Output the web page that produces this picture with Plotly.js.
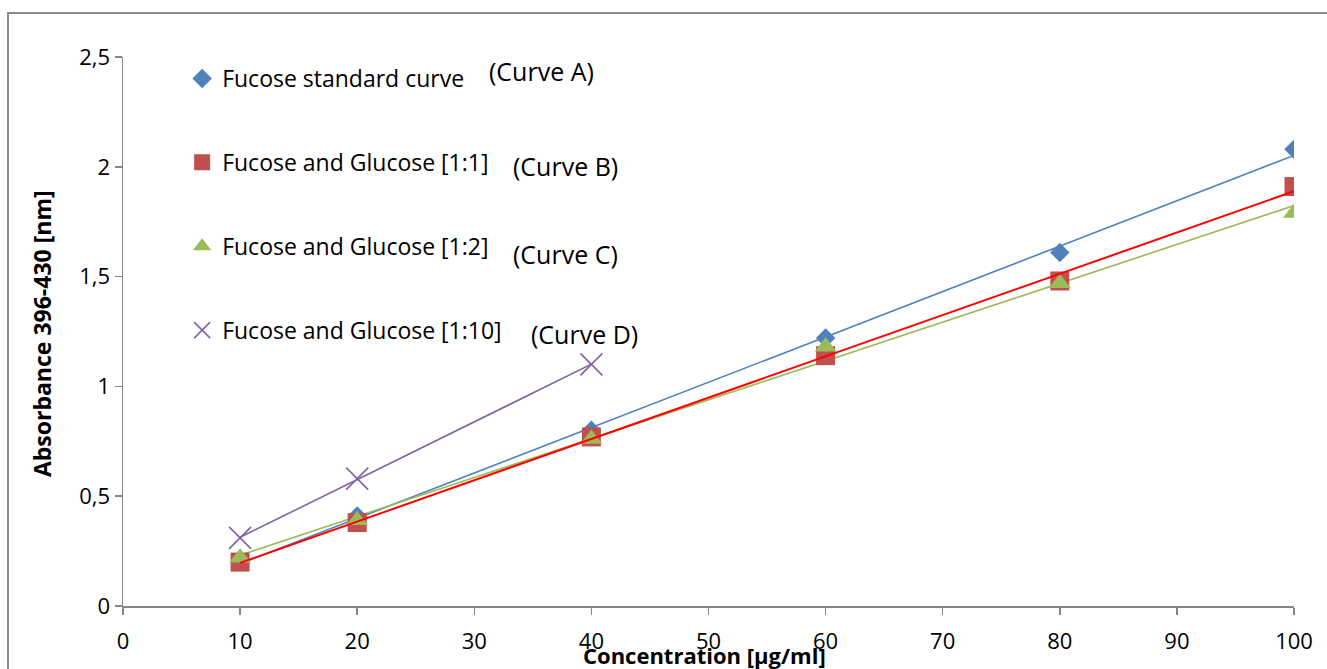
<!DOCTYPE html>
<html>
<head>
<meta charset="utf-8">
<script src="https://cdn.plot.ly/plotly-3.0.1.min.js"></script>
<style>
  html, body { margin: 0; padding: 0; background: #fff; }
  #wrap { position: relative; width: 1327px; height: 669px; overflow: hidden; }
  #chart { position: absolute; left: 0; top: 0; width: 1327px; height: 669px; }
  #frame { position: absolute; left: 7px; top: 12px; width: 1340px; height: 700px;
           border-top: 2px solid #8a8a8a; border-left: 2px solid #8a8a8a; pointer-events: none; }
</style>
</head>
<body>
<div id="wrap">
  <div id="chart"></div>
  <div id="frame"></div>
</div>
<script>
// ---- data ----
const concentration = [10, 20, 40, 60, 80, 100];
const curveA = [0.20, 0.41, 0.80, 1.22, 1.61, 2.08];   // Fucose standard curve
const curveB = [0.20, 0.38, 0.77, 1.14, 1.48, 1.91];   // Fucose and Glucose [1:1]
const curveC = [0.22, 0.39, 0.76, 1.18, 1.47, 1.79];   // Fucose and Glucose [1:2]
const concentrationD = [10, 20, 40];
const curveD = [0.31, 0.58, 1.10];                      // Fucose and Glucose [1:10]

const seriesNames = ['Fucose standard curve', 'Fucose and Glucose [1:1]',
                     'Fucose and Glucose [1:2]', 'Fucose and Glucose [1:10]'];
const curveLabels = ['(Curve A)', '(Curve B)', '(Curve C)', '(Curve D)'];

const xTickVals = [0, 10, 20, 30, 40, 50, 60, 70, 80, 90, 100];
const xTickText = ['0', '10', '20', '30', '40', '50', '60', '70', '80', '90', '100'];
const yTickVals = [0, 0.5, 1, 1.5, 2, 2.5];
const yTickText = ['0', '0,5', '1', '1,5', '2', '2,5'];

// linear trendline (least squares) through a series' own points
function trend(xs, ys) {
  const n = xs.length;
  const mx = xs.reduce((a, b) => a + b, 0) / n;
  const my = ys.reduce((a, b) => a + b, 0) / n;
  let sxy = 0, sxx = 0;
  for (let i = 0; i < n; i++) { sxy += (xs[i] - mx) * (ys[i] - my); sxx += (xs[i] - mx) ** 2; }
  const k = sxy / sxx, b = my - k * mx;
  const x0 = Math.min(...xs), x1 = Math.max(...xs);
  return { x: [x0, x1], y: [k * x0 + b, k * x1 + b] };
}

const cBlue = '#4F81BD', cRed = '#C0504D', cGreen = '#9BBB59', cPurple = '#8064A2';

const tA = trend(concentration, curveA);
const tB = trend(concentration, curveB);
const tC = trend(concentration, curveC);
const tD = trend(concentrationD, curveD);

const traces = [
  { x: tA.x, y: tA.y, mode: 'lines', line: { color: cBlue, width: 1.6 }, showlegend: false, hoverinfo: 'skip', legendgroup: 'tA' },
  { x: tC.x, y: tC.y, mode: 'lines', line: { color: cGreen, width: 1.6 }, showlegend: false, hoverinfo: 'skip', legendgroup: 'tC' },
  { x: tD.x, y: tD.y, mode: 'lines', line: { color: cPurple, width: 1.6 }, showlegend: false, hoverinfo: 'skip', legendgroup: 'tD' },
  { x: concentration, y: curveA, name: seriesNames[0], mode: 'markers', legendgroup: 'A',
    marker: { symbol: 'diamond', size: 15, color: cBlue } },
  { x: concentration, y: curveB, name: seriesNames[1], mode: 'markers', legendgroup: 'B',
    marker: { symbol: 'square', size: 19, color: cRed } },
  { x: concentration, y: curveC, name: seriesNames[2], mode: 'markers', legendgroup: 'C',
    marker: { symbol: 'triangle-up', size: 19, color: cGreen } },
  { x: concentrationD, y: curveD, name: seriesNames[3], mode: 'markers', legendgroup: 'D',
    marker: { symbol: 'x-thin-open', size: 22, color: cPurple, line: { color: cPurple, width: 1.6 } } },
  { x: tB.x, y: tB.y, mode: 'lines', line: { color: '#FF0000', width: 2 }, showlegend: false, hoverinfo: 'skip', legendgroup: 'tB' }
];

const fontFam = '"Open Sans", "Liberation Sans", sans-serif';
const axisCommon = {
  showgrid: false, zeroline: false, showline: true, linecolor: '#868686', linewidth: 1.5,
  ticks: 'outside', ticklen: 7, tickwidth: 1.5, tickcolor: '#868686', fixedrange: true,
  tickfont: { family: fontFam, size: 22, color: '#000' }
};

const layout = {
  width: 1327, height: 669,
  margin: { l: 123, r: 33, t: 57, b: 63 },
  paper_bgcolor: '#fff', plot_bgcolor: '#fff',
  font: { family: fontFam, size: 22, color: '#000' },
  showlegend: true,
  xaxis: Object.assign({}, axisCommon, { range: [0, 100], tickmode: 'array', tickvals: xTickVals, ticktext: xTickText, ticklabelstandoff: 8 }),
  yaxis: Object.assign({}, axisCommon, { range: [0, 2.5], tickmode: 'array', tickvals: yTickVals, ticktext: yTickText, ticklabelstandoff: 0 }),
  legend: { x: 0.0505, y: 1.0, xanchor: 'left', yanchor: 'top', tracegroupgap: 51,
            bgcolor: 'rgba(0,0,0,0)', itemsizing: 'trace', font: { family: fontFam, size: 23, color: '#000' } },
  annotations: [
    { text: curveLabels[0], xref: 'paper', yref: 'paper', x: 0.3108, y: 0.9745, xanchor: 'left', yanchor: 'middle', showarrow: false, font: { size: 25 } },
    { text: curveLabels[1], xref: 'paper', yref: 'paper', x: 0.3313, y: 0.8015, xanchor: 'left', yanchor: 'middle', showarrow: false, font: { size: 25 } },
    { text: curveLabels[2], xref: 'paper', yref: 'paper', x: 0.3313, y: 0.6412, xanchor: 'left', yanchor: 'middle', showarrow: false, font: { size: 25 } },
    { text: curveLabels[3], xref: 'paper', yref: 'paper', x: 0.3467, y: 0.4954, xanchor: 'left', yanchor: 'middle', showarrow: false, font: { size: 25 } },
    { text: '<b>Absorbance 396-430 [nm]</b>', xref: 'paper', yref: 'paper', x: -0.0692, y: 0.497, textangle: -90,
      xanchor: 'center', yanchor: 'middle', showarrow: false, font: { family: fontFam, size: 23, color: '#000' } },
    { text: '<b>Concentration [µg/ml]</b>', xref: 'paper', yref: 'paper', x: 0.497, y: -0.089,
      xanchor: 'center', yanchor: 'middle', showarrow: false, font: { family: fontFam, size: 22, color: '#000' } }
  ]
};

Plotly.newPlot('chart', traces, layout, { displayModeBar: false, staticPlot: true });
</script>
</body>
</html>
